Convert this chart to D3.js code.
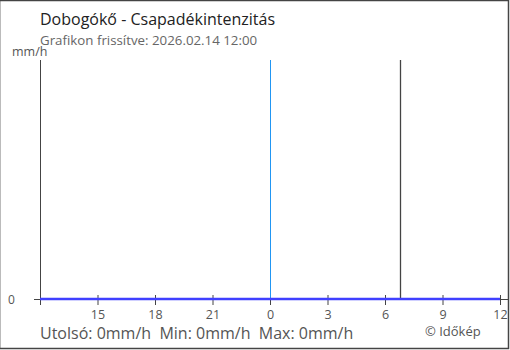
<!DOCTYPE html>
<html><head><meta charset="utf-8">
<script src="https://cdn.jsdelivr.net/npm/d3@7"></script>
<style>body{margin:0;background:#fff;font-family:"Open Sans",sans-serif;}</style>
</head><body>
<script>
const title = "Dobogókő - Csapadékintenzitás";
const subtitle = "Grafikon frissítve: 2026.02.14 12:00";
const unitLabel = "mm/h";
const times = ["2026-02-13T12:00","2026-02-13T15:00","2026-02-13T18:00","2026-02-13T21:00","2026-02-14T00:00","2026-02-14T03:00","2026-02-14T06:00","2026-02-14T09:00","2026-02-14T12:00"];
const values = [0,0,0,0,0,0,0,0,0];
const tickLabels = ["15","18","21","0","3","6","9","12"];
const midnight = "2026-02-14T00:00";
const nowMark = "2026-02-14T06:47";
const footer = "Utolsó: 0mm/h  Min: 0mm/h  Max: 0mm/h";
const credit = "© Időkép";

const W=510,H=350;
const svg=d3.select("body").append("svg").attr("width",W).attr("height",H);
const parse=d3.timeParse("%Y-%m-%dT%H:%M");
const t=times.map(parse);
const x=d3.scaleTime().domain([t[0],t[t.length-1]]).range([40,500]);
const y=d3.scaleLinear().domain([0,1]).range([299,60]);

// frame
svg.append("line").attr("x1",0.5).attr("x2",0.5).attr("y1",0).attr("y2",349).attr("stroke","#bbb");
svg.append("path").attr("d","M0,0.5H508.5V348.5H0").attr("fill","none").attr("stroke","#444").attr("stroke-width",1.5);

svg.append("text").attr("x",40).attr("y",25).attr("font-size",16).attr("fill","#222").text(title);
svg.append("text").attr("x",40).attr("y",45).attr("font-size",13.3).attr("fill","#666").text(subtitle);
svg.append("text").attr("x",12).attr("y",56).attr("font-size",12.5).attr("fill","#555").text(unitLabel);

// y axis line
svg.append("line").attr("x1",40.5).attr("x2",40.5).attr("y1",y(1)).attr("y2",305).attr("stroke","#444");
svg.append("line").attr("x1",34).attr("x2",40).attr("y1",y(0)+0.5).attr("y2",y(0)+0.5).attr("stroke","#444");
svg.append("text").attr("x",8).attr("y",y(0)+4.5).attr("font-size",12).attr("fill","#555").text("0");

// x axis
const xa=d3.axisBottom(x).tickValues(t.slice(1)).tickFormat((d,i)=>tickLabels[i]).tickSize(6).tickSizeOuter(0);
const gx=svg.append("g").attr("transform",`translate(0,${y(0)-4})`).call(xa);
gx.select(".domain").remove();
gx.selectAll(".tick line").attr("stroke","#444").attr("y2",10);
gx.selectAll(".tick text").attr("font-family","Open Sans").attr("font-size",12.5).attr("fill","#555").attr("dy","1.15em").attr("y",10);
svg.append("line").attr("x1",40).attr("x2",508).attr("y1",y(0)+0.5).attr("y2",y(0)+0.5).attr("stroke","#444");

// midnight and now lines
svg.append("line").attr("x1",Math.round(x(parse(midnight)))+0.5).attr("x2",Math.round(x(parse(midnight)))+0.5).attr("y1",y(1)).attr("y2",y(0)).attr("stroke","#2196f3");
svg.append("line").attr("x1",Math.round(x(parse(nowMark)))+0.5).attr("x2",Math.round(x(parse(nowMark)))+0.5).attr("y1",y(1)).attr("y2",y(0)).attr("stroke","#444").attr("stroke-width",1.3);

// data line
svg.append("path").datum(values).attr("fill","none").attr("stroke","#4040ff").attr("stroke-width",2.5)
  .attr("d",d3.line().x((d,i)=>x(t[i])).y(d=>y(d)));

svg.append("text").attr("x",40).attr("y",339).attr("font-size",16).attr("fill","#555").style("white-space","pre").text(footer);
svg.append("text").attr("x",425).attr("y",336).attr("font-size",13).attr("fill","#555").text(credit);
</script>
</body></html>
